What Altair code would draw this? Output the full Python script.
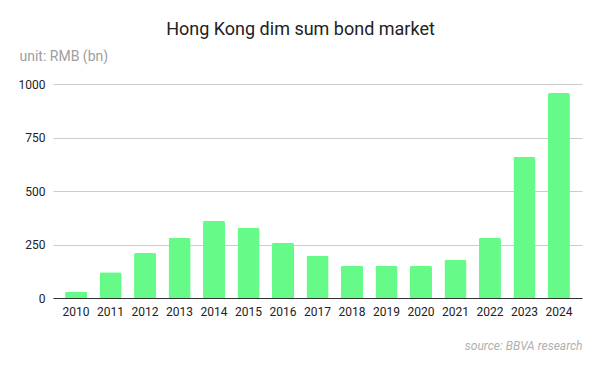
import altair as alt
import pandas as pd

years = ["2010", "2011", "2012", "2013", "2014", "2015", "2016", "2017",
         "2018", "2019", "2020", "2021", "2022", "2023", "2024"]
values = [30, 120, 211, 281, 361, 328, 258, 198, 151, 151, 151, 179, 282, 660, 958]
y_ticks = [0, 250, 500, 750, 1000]

df = pd.DataFrame({"year": years, "value": values})

chart = alt.Chart(df).mark_bar(
    color="#66fb89", cornerRadiusTopLeft=2, cornerRadiusTopRight=2
).encode(
    x=alt.X(
        "year:N", sort=None,
        scale=alt.Scale(paddingInner=0.36, paddingOuter=0.35),
        axis=alt.Axis(
            labelAngle=0, ticks=False, domainColor="#333333", labelPadding=8,
            labelFontSize=12, labelColor="#222222",
            title="source: BBVA research", titleFontStyle="italic",
            titleColor="#b0b0b0", titleFontWeight="normal", titleFontSize=12,
            titleAlign="right", titleAnchor="end", titleBaseline="alphabetic",
            titleX=529, titleY=51,
        ),
    ),
    y=alt.Y(
        "value:Q",
        scale=alt.Scale(domain=[0, 1000]),
        axis=alt.Axis(
            values=y_ticks, format="d", ticks=False, domain=False,
            gridColor="#cccccc",
            labelPadding=8, labelFontSize=12, labelColor="#222222",
            title="unit: RMB (bn)", titleAngle=0, titleAlign="left",
            titleBaseline="alphabetic", titleX=-34, titleY=-24,
            titleColor="#9e9e9e", titleFontWeight="normal", titleFontSize=14,
        ),
    ),
).properties(
    width=529, height=214,
    title=alt.Title("Hong Kong dim sum bond market", fontSize=18,
                    fontWeight="normal", color="#222222", anchor="middle",
                    frame="group", dx=-17, offset=10),
    autosize=alt.AutoSizeParams(type="none"),
    padding={"left": 45, "top": 76, "right": 10, "bottom": 65},
).configure(font="Roboto").configure_view(stroke=None)

chart.save("out.html", embed_options={"renderer": "svg", "actions": False})
